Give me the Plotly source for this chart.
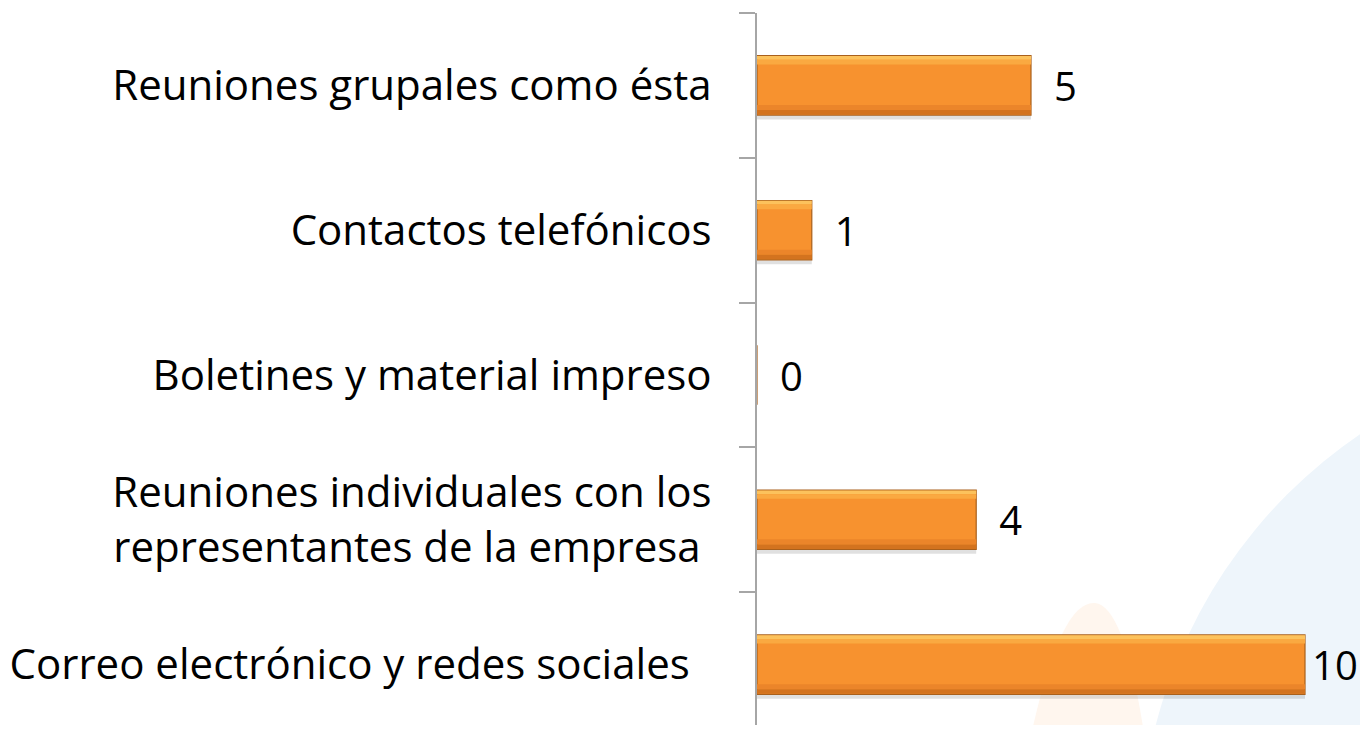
import plotly.graph_objects as go

categories = [
    "Correo electrónico y redes sociales\u00a0\u00a0",
    "Reuniones individuales con los<br>representantes de la empresa\u00a0",
    "Boletines y material impreso",
    "Contactos telefónicos",
    "Reuniones grupales como ésta",
]
values = [10, 4, 0, 1, 5]

FONT = "Open Sans"
BW = 0.41
half = BW / 2

# page offset from the default html body margin
O = 8
PAGE_W, PAGE_H = 1368, 733
W, H = PAGE_W - 2 * O, PAGE_H - 2 * O
AX_X, AX_TOP = 757, 13          # page coords of the value axis line
L, T = AX_X - O, AX_TOP - O
pw, ph = W - L, H - T
PX_PER_UNIT = 54.8
BAND = 144.8

label_tpl = ["\u200a%{x}" if v >= 10 else "\u2002%{x}" for v in values]

fig = go.Figure()

# soft drop shadow
fig.add_trace(go.Bar(
    y=categories, x=values, orientation="h",
    width=BW, offset=-half - 0.03,
    marker=dict(color="rgba(0,0,0,0.12)", line=dict(width=0)),
    hoverinfo="skip", showlegend=False,
))
# main bar
fig.add_trace(go.Bar(
    y=categories, x=values, orientation="h",
    width=BW, offset=-half,
    marker=dict(color="#F7922F", line=dict(color="#A9601C", width=1.2)),
    text=values, texttemplate=label_tpl, textposition="outside",
    textfont=dict(family=FONT, size=40, color="#000000"),
    cliponaxis=False, showlegend=False,
))
# bevel strips
strips = [
    (half - 0.028, 0.026, "#FCC25C"),
    (half - 0.06, 0.032, "#FAA941"),
    (-half + 0.035, 0.035, "#EB852A"),
    (-half + 0.004, 0.031, "#D3731F"),
]
for off, w, col in strips:
    fig.add_trace(go.Bar(
        y=categories, x=values, orientation="h",
        width=w, offset=off,
        marker=dict(color=col, line=dict(width=0)),
        hoverinfo="skip", showlegend=False,
    ))


def px(x):
    return (x - O - L) / pw


def py(y):
    return (H - (y - O)) / ph


shapes = [
    dict(type="circle", xref="paper", yref="paper", layer="below",
         x0=px(1140), x1=px(2146), y0=py(1353), y1=py(347),
         fillcolor="#EEF5FB", line=dict(width=0)),
    dict(type="path", xref="paper", yref="paper", layer="below",
         path=(f"M {px(1030)},{py(740)} "
               f"Q {px(1060)},{py(600)} {px(1095)},{py(603)} "
               f"Q {px(1125)},{py(606)} {px(1145)},{py(740)} Z"),
         fillcolor="#FFF6EE", line=dict(width=0)),
]

fig.update_layout(
    width=W, height=H,
    margin=dict(l=L, r=0, t=T, b=0),
    paper_bgcolor="#FFFFFF", plot_bgcolor="rgba(0,0,0,0)",
    barmode="overlay", hovermode=False,
    font=dict(family=FONT, color="#000000"),
    shapes=shapes,
    xaxis=dict(range=[0, pw / PX_PER_UNIT], visible=False, fixedrange=True),
    yaxis=dict(
        type="category", categoryorder="array", categoryarray=categories,
        range=[4.5 - ph / BAND, 4.5],
        showline=True, linecolor="#A6A6A6", linewidth=2,
        ticks="outside", tickson="boundaries", ticklen=16, tickwidth=2,
        tickcolor="#A6A6A6", showgrid=False, zeroline=False,
        tickfont=dict(family=FONT, size=42, color="#000000"),
        ticklabelstandoff=35, fixedrange=True,
    ),
)

fig.write_html("out.html")
